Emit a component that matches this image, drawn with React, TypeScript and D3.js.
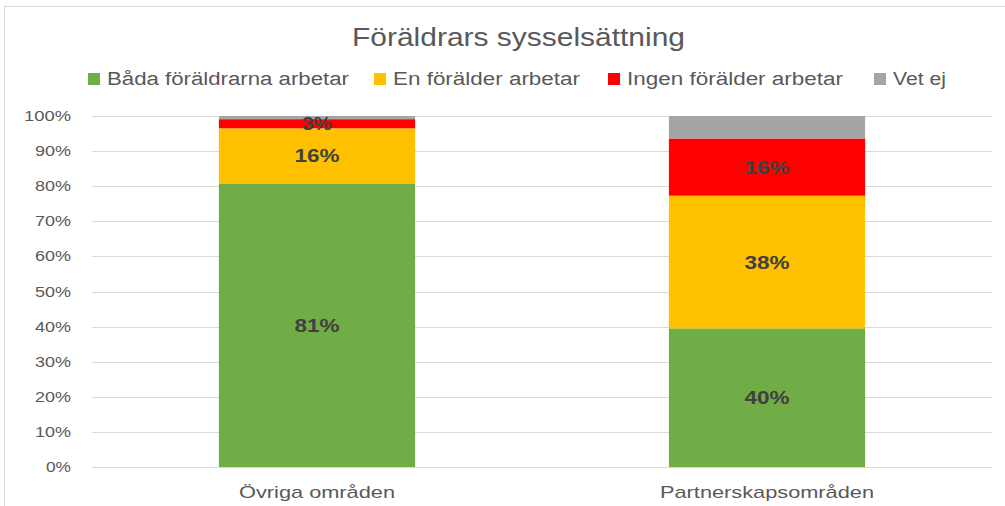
import React from "react";
import * as d3 from "d3";

const categories = ["Övriga områden", "Partnerskapsområden"];
const seriesNames = ["Båda föräldrarna arbetar", "En förälder arbetar", "Ingen förälder arbetar", "Vet ej"];
const seriesColors = ["#70AD47", "#FFC000", "#FF0000", "#A5A5A5"];
const bothWork = [80.8, 39.5];
const oneWorks = [15.7, 37.8];
const noneWorks = [2.6, 16.3];
const unknown = [0.9, 6.4];
const showLabel = [true, true, true, false];
const yTicks = [0, 10, 20, 30, 40, 50, 60, 70, 80, 90, 100];

const W = 1005;
const H = 506;
const FONT = "'Liberation Sans', Arial, sans-serif";

const legendX = [88, 374, 608, 874];
const legendTextW = [242, 187, 216, 53];
const catTextW = [156, 214];

export default function App() {
  const series = [bothWork, oneWorks, noneWorks, unknown];
  const x = d3.scaleBand<string>().domain(categories).range([92, 992]).paddingInner(0.564).paddingOuter(0.282);
  const y = d3.scaleLinear().domain([0, 100]).range([467, 116]);

  const rows = categories.map((c, i) => {
    const obj: any = { cat: c };
    seriesNames.forEach((s, j) => (obj[s] = series[j][i]));
    return obj;
  });
  const stacked = d3.stack<any>().keys(seriesNames)(rows);

  return (
    <svg width={W} height={H} style={{ position: "absolute", left: 0, top: 0 }} fontFamily={FONT}>
      <rect x={0} y={0} width={W} height={H} fill="#fff" />
      <line x1={4.5} y1={6} x2={4.5} y2={H} stroke="#d9d9d9" />
      <line x1={4} y1={6.5} x2={W} y2={6.5} stroke="#d9d9d9" />
      <text x={352} y={46} fontSize={25} fill="#595959" textLength={333} lengthAdjust="spacingAndGlyphs">Föräldrars sysselsättning</text>
      {seriesNames.map((s, i) => (
        <g key={s}>
          <rect x={legendX[i]} y={73} width={12} height={12} fill={seriesColors[i]} />
          <text x={legendX[i] + 19} y={85} fontSize={18} fill="#595959" textLength={legendTextW[i]} lengthAdjust="spacingAndGlyphs">{s}</text>
        </g>
      ))}
      {yTicks.map((t) => {
        const label = `${t}%`;
        const w = 11 * (label.length - 1) + 14;
        return (
          <g key={t}>
            <line x1={92} x2={992} y1={Math.round(y(t)) + 0.5} y2={Math.round(y(t)) + 0.5} stroke="#d9d9d9" strokeWidth={1} />
            <text x={71 - w} y={y(t) + 5} fontSize={14} fill="#595959" textLength={w} lengthAdjust="spacingAndGlyphs">{label}</text>
          </g>
        );
      })}
      {stacked.map((layer, j) => (
        <g key={layer.key}>
          {layer.map((d, i) => (
            <rect key={i} x={x(categories[i])} width={x.bandwidth()} y={y(d[1])} height={y(d[0]) - y(d[1])} fill={seriesColors[j]} />
          ))}
        </g>
      ))}
      {stacked.map((layer, j) =>
        showLabel[j]
          ? layer.map((d, i) => {
              const label = `${Math.round(series[j][i])}%`;
              const w = 15.5 * (label.length - 1) + 14;
              const cx = (x(categories[i]) as number) + x.bandwidth() / 2;
              return (
                <text key={`${j}-${i}`} x={cx - w / 2} y={(y(d[0]) + y(d[1])) / 2 + 6.5} fontSize={18} fontWeight="bold" fill="#404040" textLength={w} lengthAdjust="spacingAndGlyphs">
                  {label}
                </text>
              );
            })
          : null
      )}
      {categories.map((c, i) => (
        <text key={c} x={(x(c) as number) + x.bandwidth() / 2 - catTextW[i] / 2} y={498} fontSize={17} fill="#595959" textLength={catTextW[i]} lengthAdjust="spacingAndGlyphs">{c}</text>
      ))}
    </svg>
  );
}
